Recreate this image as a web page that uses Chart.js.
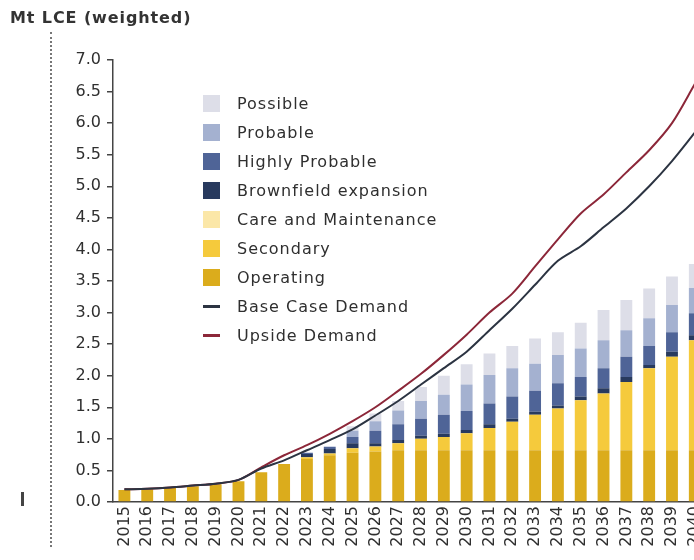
<!DOCTYPE html>
<html>
<head>
<meta charset="utf-8">
<script src="https://cdn.jsdelivr.net/npm/chart.js@4"></script>
<style>
  html, body { margin: 0; padding: 0; overflow: hidden; background: #fff; width: 694px; height: 560px; }
  #wrap { position: relative; width: 694px; height: 560px; overflow: hidden; font-family: "DejaVu Sans", sans-serif; color: #3a3a3a; }
  #chart { position: absolute; left: 0; top: 0; }
  #title { position: absolute; left: 10px; top: 8px; font-size: 16px; font-weight: bold; color: #333; letter-spacing: 0.9px; }
  #dots { position: absolute; left: 50px; top: 32px; height: 515px; border-left: 2px dotted #777; }
  #mark { position: absolute; left: 21px; top: 492px; width: 3px; height: 14px; background: #444; }
  #legend { position: absolute; left: 203px; top: 89px; }
  .row { height: 29px; display: flex; align-items: center; font-size: 16px; letter-spacing: 1px; color: #2f2f2f; }
  .box { width: 17px; height: 17px; margin-right: 17px; }
  .ln { width: 17px; height: 3px; margin-right: 17px; }
</style>
</head>
<body>
<div id="wrap">
  <canvas id="chart" width="718" height="560"></canvas>
  <div id="title">Mt LCE (weighted)</div>
  <div id="dots"></div>
  <div id="mark"></div>
  <div id="legend"></div>
</div>
<script>
const years = ["2015","2016","2017","2018","2019","2020","2021","2022","2023","2024","2025","2026","2027",
  "2028","2029","2030","2031","2032","2033","2034","2035","2036","2037","2038","2039","2040"];

const operating = [0.19,0.20,0.22,0.25,0.28,0.33,0.47,0.60,0.68,0.74,0.78,0.80,0.82,
  0.82,0.82,0.82,0.82,0.82,0.82,0.82,0.82,0.82,0.82,0.82,0.82,0.82];
const secondary = [0,0,0,0,0,0,0,0,0.03,0.03,0.07,0.08,0.11,
  0.18,0.21,0.27,0.35,0.45,0.56,0.66,0.79,0.90,1.08,1.30,1.48,1.74];
const careMaintenance = [0,0,0,0,0,0,0,0,0,0,0,0,0,
  0,0,0,0,0,0,0,0,0,0,0,0,0];
const brownfield = [0,0,0,0,0,0,0,0,0.05,0.07,0.08,0.05,0.05,
  0.05,0.05,0.05,0.06,0.05,0.05,0.05,0.06,0.08,0.08,0.05,0.08,0.08];
const highlyProbable = [0,0,0,0,0,0,0,0,0.02,0.03,0.10,0.20,0.25,
  0.27,0.30,0.30,0.33,0.35,0.33,0.35,0.31,0.32,0.32,0.30,0.31,0.35];
const probable = [0,0,0,0,0,0,0,0,0,0.01,0.10,0.15,0.22,
  0.28,0.32,0.42,0.45,0.45,0.43,0.45,0.45,0.44,0.42,0.44,0.43,0.40];
const possible = [0,0,0,0,0,0,0,0,0,0,0.07,0.12,0.15,
  0.22,0.30,0.32,0.34,0.35,0.40,0.36,0.41,0.48,0.48,0.47,0.45,0.38];

const baseDemand = [0.20,0.21,0.23,0.26,0.29,0.35,0.53,0.66,0.82,0.98,1.15,1.37,1.60,
  1.86,2.12,2.38,2.72,3.06,3.44,3.82,4.05,4.35,4.65,5.00,5.40,5.85];
const upsideDemand = [0.20,0.21,0.23,0.26,0.29,0.35,0.55,0.74,0.90,1.08,1.28,1.50,1.76,
  2.03,2.33,2.65,3.00,3.30,3.73,4.16,4.57,4.87,5.22,5.57,6.00,6.62];

const yTicks = [0,0.5,1,1.5,2,2.5,3,3.5,4,4.5,5,5.5,6,6.5,7];

const colors = {
  possible: "#dddee8",
  probable: "#a4b1d0",
  highly: "#4f6497",
  brownfield: "#283a5e",
  care: "#fbe7a8",
  secondary: "#f5ca3c",
  operating: "#dbac1c",
  base: "#2c3442",
  upside: "#8c2739",
};

function bar(label, data, color) {
  return {
    type: "bar",
    label,
    data,
    backgroundColor: color,
    stack: "supply",
    order: 1,
    barPercentage: 0.52,
    categoryPercentage: 1,
  };
}

function line(label, data, color, stack) {
  return {
    type: "line",
    label,
    data,
    borderColor: color,
    borderWidth: 2,
    pointRadius: 0,
    tension: 0.3,
    fill: false,
    stack,
    order: 0,
  };
}

const legendItems = [
  { label: "Possible", color: colors.possible, kind: "box" },
  { label: "Probable", color: colors.probable, kind: "box" },
  { label: "Highly Probable", color: colors.highly, kind: "box" },
  { label: "Brownfield expansion", color: colors.brownfield, kind: "box" },
  { label: "Care and Maintenance", color: colors.care, kind: "box" },
  { label: "Secondary", color: colors.secondary, kind: "box" },
  { label: "Operating", color: colors.operating, kind: "box" },
  { label: "Base Case Demand", color: colors.base, kind: "ln" },
  { label: "Upside Demand", color: colors.upside, kind: "ln" },
];

document.getElementById("legend").innerHTML = legendItems
  .map((it) => `<div class="row"><span class="${it.kind}" style="background:${it.color}"></span>${it.label}</div>`)
  .join("");

const tickFont = { family: "DejaVu Sans", size: 16 };

new Chart(document.getElementById("chart"), {
  data: {
    labels: years,
    datasets: [
      line("Base Case Demand", baseDemand, colors.base, "base"),
      line("Upside Demand", upsideDemand, colors.upside, "upside"),
      bar("Operating", operating, colors.operating),
      bar("Secondary", secondary, colors.secondary),
      bar("Care and Maintenance", careMaintenance, colors.care),
      bar("Brownfield expansion", brownfield, colors.brownfield),
      bar("Highly Probable", highlyProbable, colors.highly),
      bar("Probable", probable, colors.probable),
      bar("Possible", possible, colors.possible),
    ],
  },
  options: {
    responsive: false,
    animation: false,
    layout: { padding: { left: 0, top: 60, right: 0, bottom: 0 } },
    plugins: {
      legend: { display: false },
      tooltip: { enabled: false },
    },
    scales: {
      x: {
        stacked: true,
        grid: { display: false, drawTicks: false },
        border: { display: true, color: "#444", width: 1.5 },
        ticks: {
          color: "#2f2f2f",
          font: tickFont,
          minRotation: 90,
          maxRotation: 90,
          autoSkip: false,
          padding: 4,
        },
        afterFit: (s) => { s.height = 58; },
      },
      y: {
        stacked: true,
        min: 0,
        max: 7,
        afterBuildTicks: (s) => { s.ticks = yTicks.map((v) => ({ value: v })); },
        grid: { display: true, drawOnChartArea: false, drawTicks: true, tickLength: 6, color: "#444", lineWidth: 1.5 },
        border: { display: true, color: "#444", width: 1.5 },
        ticks: {
          color: "#2f2f2f",
          font: tickFont,
          padding: 6,
          callback: (v) => Number(v).toFixed(1),
        },
        afterFit: (s) => { s.width = 113; },
      },
    },
  },
});
</script>
</body>
</html>
